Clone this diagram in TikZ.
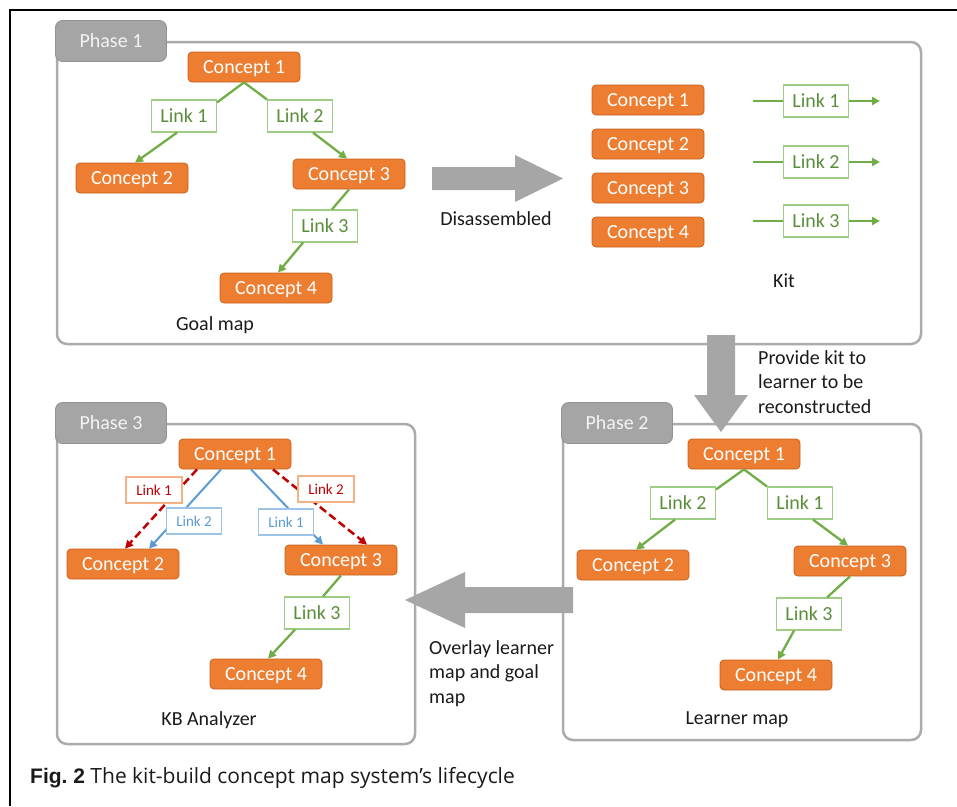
\documentclass[tikz,border=0pt]{standalone}
\usepackage{fontspec}
\setmainfont{Carlito}
\newfontfamily\capboldfont{Liberation Sans}
\newfontfamily\captextfont{Open Sans}
\usetikzlibrary{arrows.meta,calc}

\definecolor{conceptfill}{HTML}{ED7D31}
\definecolor{conceptedge}{HTML}{C8601D}
\definecolor{linkgreen}{HTML}{70AD47}
\definecolor{linkedge}{HTML}{9FCC84}
\definecolor{linktext}{HTML}{5A8F3A}
\definecolor{panelgray}{HTML}{ABABAB}
\definecolor{tabfill}{HTML}{A5A5A5}
\definecolor{tabedge}{HTML}{929292}
\definecolor{tabtext}{HTML}{F4F4F4}
\definecolor{bigarrow}{HTML}{A6A6A6}
\definecolor{goalred}{HTML}{C00000}
\definecolor{goalredbox}{HTML}{F4B183}
\definecolor{learnblue}{HTML}{5B9BD5}
\definecolor{learnbluebox}{HTML}{9DC3E6}
\definecolor{inkblack}{HTML}{1A1A1A}

\tikzset{
  frameline/.style={line width=2pt, black},
  panel/.style={draw=panelgray, line width=2.5pt, rounded corners=10pt},
  tab/.style={rectangle, rounded corners=7pt, fill=tabfill, draw=tabedge, line width=0.8pt,
    minimum width=111pt, minimum height=41pt, text depth=0pt, text=tabtext, font=\fontsize{20}{24}\selectfont},
  concept/.style={rectangle, rounded corners=4pt, fill=conceptfill, draw=conceptedge, line width=0.8pt,
    minimum width=112pt, minimum height=30pt, inner sep=0pt, text depth=0pt, text=white, font=\fontsize{20}{24}\selectfont},
  linkbox/.style={rectangle, fill=white, draw=linkedge, line width=1.2pt,
    minimum width=65pt, minimum height=32pt, inner sep=0pt, text depth=0pt, text=linktext, font=\fontsize{20}{24}\selectfont},
  redlink/.style={rectangle, fill=white, draw=goalredbox, line width=1.1pt,
    minimum width=56pt, minimum height=26pt, inner sep=0pt, text depth=0pt, text=goalred, font=\fontsize{15}{18}\selectfont},
  bluelink/.style={rectangle, fill=white, draw=learnbluebox, line width=1.1pt,
    minimum width=55pt, minimum height=26pt, inner sep=0pt, text depth=0pt, text=learnblue, font=\fontsize{15}{18}\selectfont},
  gline/.style={draw=linkgreen, line width=2.3pt},
  garrow/.style={gline, -{Triangle[length=8pt,width=8pt]}},
  redarrow/.style={draw=goalred, line width=2.5pt, dash pattern=on 8pt off 4pt,
    -{Triangle[length=8pt,width=8pt]}},
  bluearrow/.style={draw=learnblue, line width=2pt, -{Triangle[length=8pt,width=8pt]}},
  blockarrow/.style={fill=bigarrow, draw=none},
  plainlabel/.style={text=inkblack, font=\fontsize{20}{24.5}\selectfont, inner sep=0pt},
}

\begin{document}
\begin{tikzpicture}[x=1pt, y=-1pt]
\useasboundingbox (0,0) rectangle (957,806);

% figure frame (top and left rules)
\draw[frameline] (10,806) -- (10,10) -- (957,10);

% phase panels
\draw[panel] (57,42) rectangle (921,344);
\draw[panel] (57,424) rectangle (415,744);
\draw[panel] (563,424) rectangle (921,740);
\node[tab] (tab1) at (111,41) {Phase 1};
\node[tab] (tab3) at (111,423) {Phase 3};
\node[tab] (tab2) at (617,423) {Phase 2};

% ---------- Phase 1: goal map ----------
\node[concept] (p1c1) at (244,67) {Concept 1};
\node[concept] (p1c2) at (132,178) {Concept 2};
\node[concept] (p1c3) at (349,174) {Concept 3};
\node[concept] (p1c4) at (276,288) {Concept 4};
\node[linkbox] (p1l1) at (184,116) {Link 1};
\node[linkbox] (p1l2) at (300,116) {Link 2};
\node[linkbox] (p1l3) at (325,226) {Link 3};

\draw[gline] (p1c1.south) -- ($(p1l1.north east)+(0,3)$);
\draw[garrow] ($(p1l1.south)+(-7,0)$) -- ($(p1c2.north)+(3,0)$);
\draw[gline] (p1c1.south) -- (p1l2.north west);
\draw[garrow] ($(p1l2.south)+(13,0)$) -- ($(p1c3.north)+(-2,0)$);
\draw[gline] (p1c3.south) -- ($(p1l3.north)+(7,0)$);
\draw[garrow] ($(p1l3.south)+(-22,0)$) -- ($(p1c4.north)+(2,0)$);

\node[plainlabel] (goal) at (215,325) {Goal map};

% disassembled arrow
\fill[blockarrow] (432,167) -- (515,167) -- (515,155) -- (563,178.5) -- (515,202) -- (515,190) -- (432,190) -- cycle;
\node[plainlabel] (dis) at (496,219) {Disassembled};

% kit
\node[concept] (k1) at (648,100) {Concept 1};
\node[concept] (k2) at (648,144) {Concept 2};
\node[concept] (k3) at (648,188) {Concept 3};
\node[concept] (k4) at (648,232) {Concept 4};
\node[linkbox] (kl1) at (816,101) {Link 1};
\node[linkbox] (kl2) at (816,162) {Link 2};
\node[linkbox] (kl3) at (816,221) {Link 3};
\coordinate (kin1) at (753,101);  \coordinate (kout1) at (880,101);
\coordinate (kin2) at (753,162);  \coordinate (kout2) at (880,162);
\coordinate (kin3) at (753,221);  \coordinate (kout3) at (880,221);
\draw[gline] (kin1) -- (kl1);  \draw[garrow] (kl1) -- (kout1);
\draw[gline] (kin2) -- (kl2);  \draw[garrow] (kl2) -- (kout2);
\draw[gline] (kin3) -- (kl3);  \draw[garrow] (kl3) -- (kout3);
\node[plainlabel] (kit) at (784,281) {Kit};

% provide kit arrow
\fill[blockarrow] (707,335) -- (735,335) -- (735,395) -- (748,395) -- (721,432) -- (694,395) -- (707,395) -- cycle;
\node[plainlabel, align=left, anchor=north west] (provide) at (758,350)
  {Provide kit to\\learner to be\\reconstructed};

% ---------- Phase 2: learner map ----------
\node[concept] (p2c1) at (744,454) {Concept 1};
\node[concept] (p2c2) at (633,565) {Concept 2};
\node[concept] (p2c3) at (850,561) {Concept 3};
\node[concept] (p2c4) at (776,675) {Concept 4};
\node[linkbox] (p2l2) at (683,503) {Link 2};
\node[linkbox] (p2l1) at (800,503) {Link 1};
\node[linkbox] (p2l3) at (809,614) {Link 3};

\draw[gline] (p2c1.south) -- ($(p2l2.north east)+(0,3)$);
\draw[garrow] ($(p2l2.south)+(-8,0)$) -- ($(p2c2.north)+(3,0)$);
\draw[gline] (p2c1.south) -- (p2l1.north west);
\draw[garrow] ($(p2l1.south)+(13,0)$) -- ($(p2c3.north)+(-2,0)$);
\draw[gline] (p2c3.south) -- (p2l3);
\draw[garrow] ($(p2l3.south)+(-15,0)$) -- ($(p2c4.north)+(2,0)$);

\node[plainlabel] (learner) at (737,720) {Learner map};

% overlay arrow
\fill[blockarrow] (573,587) -- (465,587) -- (465,572) -- (405,600) -- (465,628) -- (465,613) -- (573,613) -- cycle;
\node[plainlabel, align=left, anchor=north west] (overlay) at (429,640)
  {Overlay learner\\map and goal\\map};

% ---------- Phase 3: KB analyzer ----------
\node[concept] (p3c1) at (235,454) {Concept 1};
\node[concept] (p3c2) at (123,564) {Concept 2};
\node[concept] (p3c3) at (341,560) {Concept 3};
\node[concept] (p3c4) at (266,674) {Concept 4};

\draw[redarrow] ($(p3c1.south)+(-38,0)$) -- ($(p3c2.north)+(2,0)$);
\draw[bluearrow] ($(p3c1.south)+(-14,0)$) -- ($(p3c2.north)+(26,0)$);
\draw[bluearrow] ($(p3c1.south)+(16,0)$) -- ($(p3c3.north)+(-18,0)$);
\draw[redarrow] ($(p3c1.south)+(38,0)$) -- ($(p3c3.north)+(26,0)$);

\node[redlink] (p3r1) at (154,490) {Link 1};
\node[redlink] (p3r2) at (326,489) {Link 2};
\node[bluelink] (p3b2) at (194,521) {Link 2};
\node[bluelink] (p3b1) at (286,522) {Link 1};
\node[linkbox] (p3l3) at (317,613) {Link 3};

\draw[gline] (p3c3.south) -- ($(p3l3.north)+(6,0)$);
\draw[garrow] ($(p3l3.south)+(-22,0)$) -- ($(p3c4.north)+(2,0)$);

\node[plainlabel] (kb) at (209,720) {KB Analyzer};

% caption
\node[anchor=base west, inner sep=0pt, text=inkblack] (caption) at (30,783)
  {\fontsize{21}{25}\capboldfont\bfseries Fig.~2\fontsize{21}{25}\captextfont\mdseries\ The kit-build concept map system’s lifecycle};
\end{tikzpicture}
\end{document}
